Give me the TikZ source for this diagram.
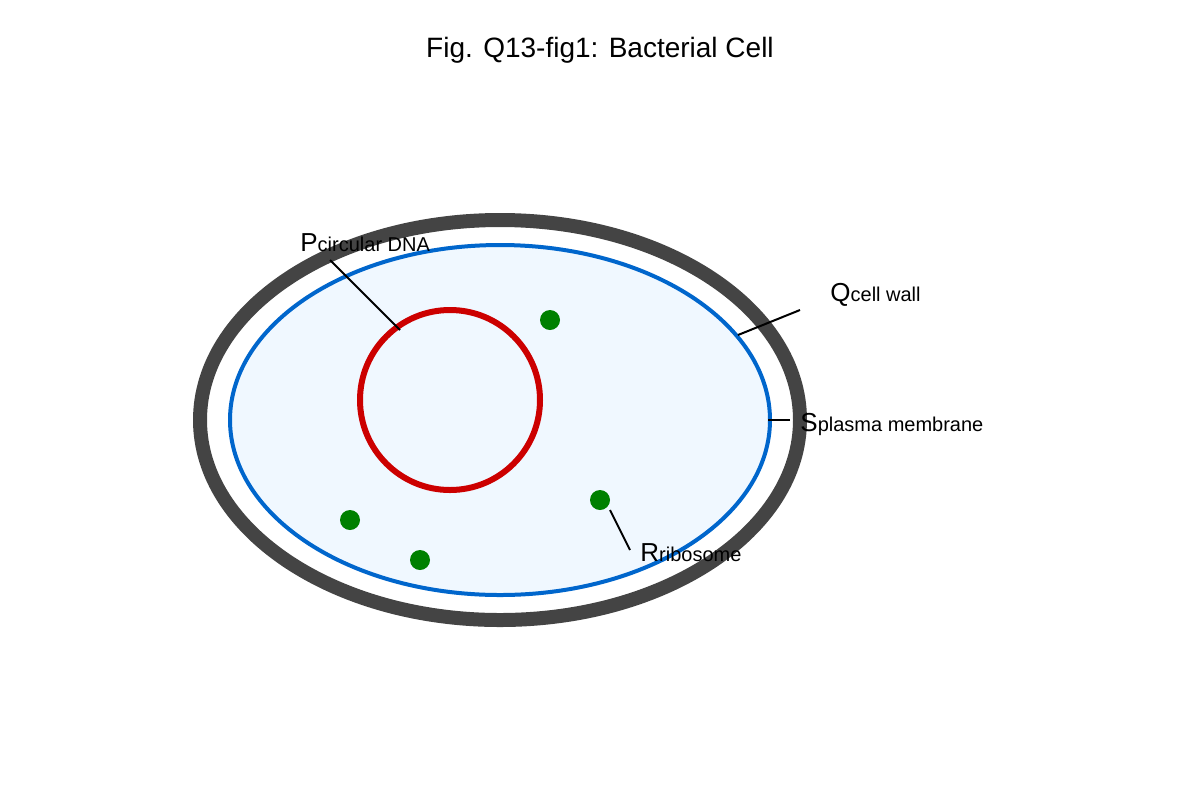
\documentclass[tikz,border=0pt]{standalone}
\usepackage{fontspec}
\setmainfont{Liberation Sans}
\definecolor{wallgray}{HTML}{444444}
\definecolor{membblue}{HTML}{0066CC}
\definecolor{cytofill}{HTML}{F0F8FF}
\definecolor{dnared}{HTML}{CC0000}
\definecolor{ribogreen}{HTML}{008000}
\newcommand{\celllabel}[2]{{\fontsize{13}{13}\selectfont #1}{\fontsize{10}{10}\selectfont #2}}
\tikzset{
  lbl/.style={anchor=base west, inner sep=0pt},
  ribo/.style={circle, fill=ribogreen, minimum size=10pt, inner sep=0pt},
  pointer/.style={draw=black, line width=1pt}
}
\begin{document}
\begin{tikzpicture}[x=0.5pt, y=-0.5pt]
\useasboundingbox (0,0) rectangle (1200,800);
\node[inner sep=0pt] (title) at (600,50) {\fontsize{14}{14}\selectfont Fig. Q13-fig1: Bacterial Cell};
% cell
\draw[wallgray, line width=7pt] (500,420) ellipse [x radius=300, y radius=200];
\draw[membblue, line width=2pt, fill=cytofill] (500,420) ellipse [x radius=270, y radius=175];
\draw[dnared, line width=3pt] (450,400) circle [radius=90];
% ribosomes
\node[ribo] (r1) at (550,320) {};
\node[ribo] (r2) at (600,500) {};
\node[ribo] (r3) at (350,520) {};
\node[ribo] (r4) at (420,560) {};
% labels
\node[lbl] (P) at (300,251) {\celllabel{P}{circular DNA}};
\node[lbl] (Q) at (830,301) {\celllabel{Q}{cell wall}};
\node[lbl] (S) at (800,431) {\celllabel{S}{plasma membrane}};
\node[lbl] (R) at (640,561) {\celllabel{R}{ribosome}};
\coordinate (pP1) at (330,260); \coordinate (pP2) at (400,330);
\coordinate (pQ1) at (800,310); \coordinate (pQ2) at (738,335);
\coordinate (pS1) at (790,420); \coordinate (pS2) at (768,420);
\coordinate (pR1) at (630,550); \coordinate (pR2) at (610,510);
\draw[pointer] (pP1) -- (pP2);
\draw[pointer] (pQ1) -- (pQ2);
\draw[pointer] (pS1) -- (pS2);
\draw[pointer] (pR1) -- (pR2);
\end{tikzpicture}
\end{document}
